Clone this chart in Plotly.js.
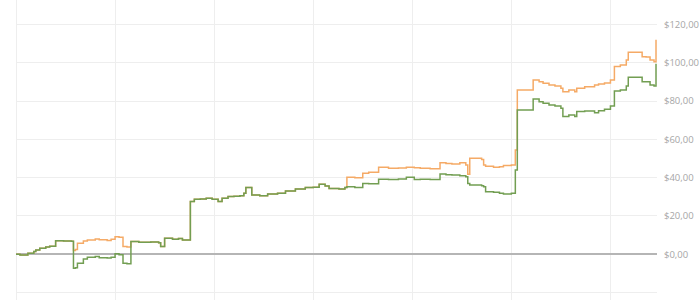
<!DOCTYPE html>
<html>
<head>
<meta charset="utf-8">
<script src="https://cdn.plot.ly/plotly-3.0.1.min.js"></script>
<style>html,body{margin:0;padding:0;background:#fff;}#chart{width:700px;height:302px;}</style>
</head>
<body>
<div id="chart"></div>
<script>
// Day index of each step change
const days = [0,2,6,9,10,12,15,17,20,24,28,29,30,31,34,36,40,42,46,48,50,52,54,56,58,62,68,72,73,75,79,82,84,88,90,93,96,99,102,104,107,110,113,115,116,119,123,127,132,136,141,146,150,153,156,158,163,166,167,171,175,178,183,188,193,197,201,204,209,214,217,220,224,227,228,229,235,236,237,241,244,246,250,252,253,261,264,266,269,272,275,276,279,282,283,287,292,294,297,300,302,305,308,309,314,316,318,320,322,323];
// Orange series (cumulative P&L, $)
const orangeValues = [0,-0.4,0.5,1.4,2.2,3.1,3.8,4.2,7.1,6.9,6.8,1.9,2.5,5.7,6.9,7.5,8.0,7.6,7.2,7.8,9.2,8.9,4.0,3.8,6.6,6.3,6.4,6.0,4.0,8.4,7.8,8.2,7.5,27.5,28.7,28.9,29.2,28.7,27.5,29.2,30.1,30.3,30.6,31.9,34.8,31.0,30.6,31.5,31.8,33.0,34.1,34.8,35.0,36.6,35.7,34.4,34.1,34.8,40.2,40.0,42.3,42.8,45.4,44.9,45.0,45.4,45.2,44.9,44.6,47.8,47.4,47.2,47.8,46.6,41.8,50.1,49.5,46.6,46.0,45.5,45.7,46.3,46.6,54.5,85.8,91.0,90.1,89.3,88.4,87.9,86.7,84.9,85.8,84.9,86.7,87.5,88.4,88.9,89.5,91.0,98.0,98.9,101.5,105.5,105.5,103.2,103.0,101.5,100.6,112.0];
// Green series (cumulative P&L, $)
const greenValues = [0,-0.4,0.5,1.4,2.2,3.1,3.8,4.2,7.1,6.9,6.8,-7.3,-7.0,-4.7,-2.5,-1.6,-1.2,-1.8,-2.0,-1.6,0.2,-0.2,-4.7,-5.0,6.6,6.3,6.4,6.0,4.0,8.4,7.8,8.2,7.5,27.5,28.7,28.9,29.2,28.7,27.5,29.2,30.1,30.3,30.6,31.9,34.8,31.0,30.6,31.5,31.8,33.0,34.1,34.8,35.0,36.6,35.7,34.4,34.1,34.8,35.3,34.8,37.0,36.8,39.2,39.0,39.3,40.2,39.0,39.2,39.0,41.9,41.5,41.4,41.0,40.5,37.0,36.2,35.8,35.3,32.7,32.4,31.9,31.5,31.9,44.0,75.4,81.1,79.7,78.9,78.0,77.4,76.2,71.9,72.7,71.9,74.5,74.8,73.9,75.0,75.7,77.4,85.3,85.8,87.9,92.4,92.4,90.1,90.1,88.4,87.9,99.5];
// Y tick values and labels
const yTickVals = [-20,0,20,40,60,80,100,120];
const yTickText = ["","$0,00","$20,00","$40,00","$60,00","$80,00","$100,00","$120,00"];

const traces = [
  {x: days, y: orangeValues, type: 'scatter', mode: 'lines', line: {shape: 'hv', color: '#F5AA66', width: 1.5}, hoverinfo: 'skip'},
  {x: days, y: greenValues, type: 'scatter', mode: 'lines', line: {shape: 'hv', color: '#729E52', width: 1.5}, hoverinfo: 'skip'}
];

const layout = {
  width: 700, height: 302,
  margin: {l: 16, r: 43, t: 0, b: 2},
  paper_bgcolor: '#ffffff', plot_bgcolor: '#ffffff',
  showlegend: false,
  font: {family: 'Open Sans, sans-serif', size: 9.5, color: '#a6a6a6'},
  xaxis: {
    range: [0, 323.5], dtick: 50, tick0: 0,
    showgrid: true, gridcolor: '#eeeeee', gridwidth: 1,
    showticklabels: false, zeroline: true, zerolinecolor: '#eeeeee', zerolinewidth: 1,
    showline: false, ticks: ''
  },
  yaxis: {
    side: 'right', range: [-23.9, 132.8],
    tickmode: 'array', tickvals: yTickVals, ticktext: yTickText,
    showgrid: true, gridcolor: '#eeeeee', gridwidth: 1,
    zeroline: true, zerolinecolor: '#b5b5b5', zerolinewidth: 1.5,
    showline: false, ticks: '', ticklabelstandoff: 6,
    tickfont: {family: 'Open Sans, sans-serif', size: 9.5, color: '#a6a6a6'}
  }
};
Plotly.newPlot('chart', traces, layout, {staticPlot: true, displayModeBar: false});
</script>
</body>
</html>
